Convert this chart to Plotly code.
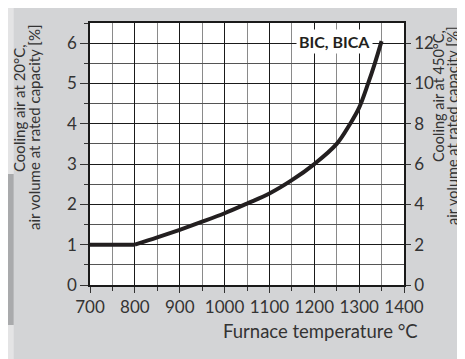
import plotly.graph_objects as go

# curve
flat_t = [700, 800]
flat_v = [1.0, 1.0]
temp_c = [800, 850, 900, 950, 1000, 1050, 1100, 1150, 1200, 1250, 1280, 1300, 1320, 1335, 1350]
air_20c = [1.0, 1.18, 1.37, 1.57, 1.78, 2.02, 2.27, 2.6, 3.0, 3.5, 4.0, 4.4, 5.0, 5.5, 6.05]

x_ticks = [700, 800, 900, 1000, 1100, 1200, 1300, 1400]
y_ticks = [0, 1, 2, 3, 4, 5, 6]
y2_ticks = [0, 2, 4, 6, 8, 10, 12]

FONT = "Lato"
TXT = "#333333"
BG = "#d3d4d6"
LINE = "#231f20"

fig = go.Figure()
fig.add_trace(go.Scatter(
    x=flat_t, y=flat_v, mode="lines",
    line=dict(color=LINE, width=4),
    showlegend=False, hoverinfo="skip"
))
fig.add_trace(go.Scatter(
    x=temp_c, y=air_20c, mode="lines",
    line=dict(color=LINE, width=4, shape="spline", smoothing=1.0),
    showlegend=False, hoverinfo="skip"
))
# dummy trace so the right axis is drawn
fig.add_trace(go.Scatter(
    x=[700], y=[0], yaxis="y2", mode="markers",
    marker=dict(opacity=0), showlegend=False, hoverinfo="skip"
))

fig.update_layout(
    width=465, height=359,
    margin=dict(l=82, r=69, t=15, b=82),
    paper_bgcolor=BG, plot_bgcolor="white",
    font=dict(family=FONT, color=TXT, size=17),
    xaxis=dict(
        range=[700, 1400], tickvals=x_ticks,
        showgrid=True, gridcolor="#1a1a1a", gridwidth=1.2,
        minor=dict(dtick=50, showgrid=True, gridcolor="#8a8a8a", gridwidth=1.2,
                   ticks="outside", ticklen=4, tickcolor="#333"),
        ticks="outside", ticklen=6, tickcolor="#333",
        showline=True, linecolor="#1a1a1a", linewidth=1.5, mirror=True,
        zeroline=False, tickfont=dict(size=17, color=TXT),
    ),
    yaxis=dict(
        range=[0, 6.5], tickvals=y_ticks,
        showgrid=True, gridcolor="#1a1a1a", gridwidth=1.2,
        minor=dict(dtick=0.5, showgrid=True, gridcolor="#555555", gridwidth=1.2,
                   ticks="outside", ticklen=4, tickcolor="#333"),
        ticks="outside", ticklen=8, tickcolor="#333",
        showline=True, linecolor="#1a1a1a", linewidth=1.5,
        zeroline=False, tickfont=dict(size=17, color=TXT),
    ),
    yaxis2=dict(
        range=[0, 13], tickvals=y2_ticks, overlaying="y", side="right",
        showgrid=False, zeroline=False,
        ticks="outside", ticklen=5, tickcolor="#333",
        showline=True, linecolor="#1a1a1a", linewidth=1.5,
        tickfont=dict(size=17, color=TXT),
    ),
)

# left grey strip with the dark tab
fig.add_shape(type="rect", xref="paper", yref="paper",
              x0=-0.262, x1=-0.243, y0=-0.31, y1=1.06,
              fillcolor="#e4e4e5", line_width=0, layer="below")
fig.add_shape(type="rect", xref="paper", yref="paper",
              x0=-0.262, x1=-0.243, y0=(277 - 317) / 262, y1=(277 - 166) / 262,
              fillcolor="#a9aaac", line_width=0, layer="below")

fig.add_annotation(
    text="<b>BIC, BICA</b>", x=1331, y=6.05, xref="x", yref="y",
    xanchor="right", yanchor="middle",
    showarrow=False, bgcolor="white", borderpad=2,
    font=dict(family=FONT, size=16, color=LINE),
)

# rotated axis titles, one annotation per line (pixel positions tuned by eye)
left_lines = [("Cooling air at 20°C,", 11, 100), ("air volume at rated capacity [%]", 26, 119)]
right_lines = [("Cooling air at 450°C,", 431, 88), ("air volume at rated capacity [%]", 444, 118)]
for txt, px, py in left_lines:
    fig.add_annotation(
        text=txt, xref="paper", yref="paper",
        x=(px - 82) / 314, y=(277 - py) / 262, xanchor="center", yanchor="middle",
        textangle=-90, showarrow=False,
        font=dict(family=FONT, size=15, color=TXT),
    )
for txt, px, py in right_lines:
    fig.add_annotation(
        text=txt, xref="paper", yref="paper",
        x=(px - 82) / 314, y=(277 - py) / 262, xanchor="center", yanchor="middle",
        textangle=-90, showarrow=False,
        font=dict(family=FONT, size=14.5, color=TXT),
    )

fig.add_annotation(
    text="Furnace temperature °C",
    xref="paper", yref="paper", x=(412 - 82) / 314, y=(277 - 323) / 262,
    xanchor="right", yanchor="middle",
    showarrow=False, font=dict(family=FONT, size=18.5, color=TXT),
)

fig.write_html("out.html")
